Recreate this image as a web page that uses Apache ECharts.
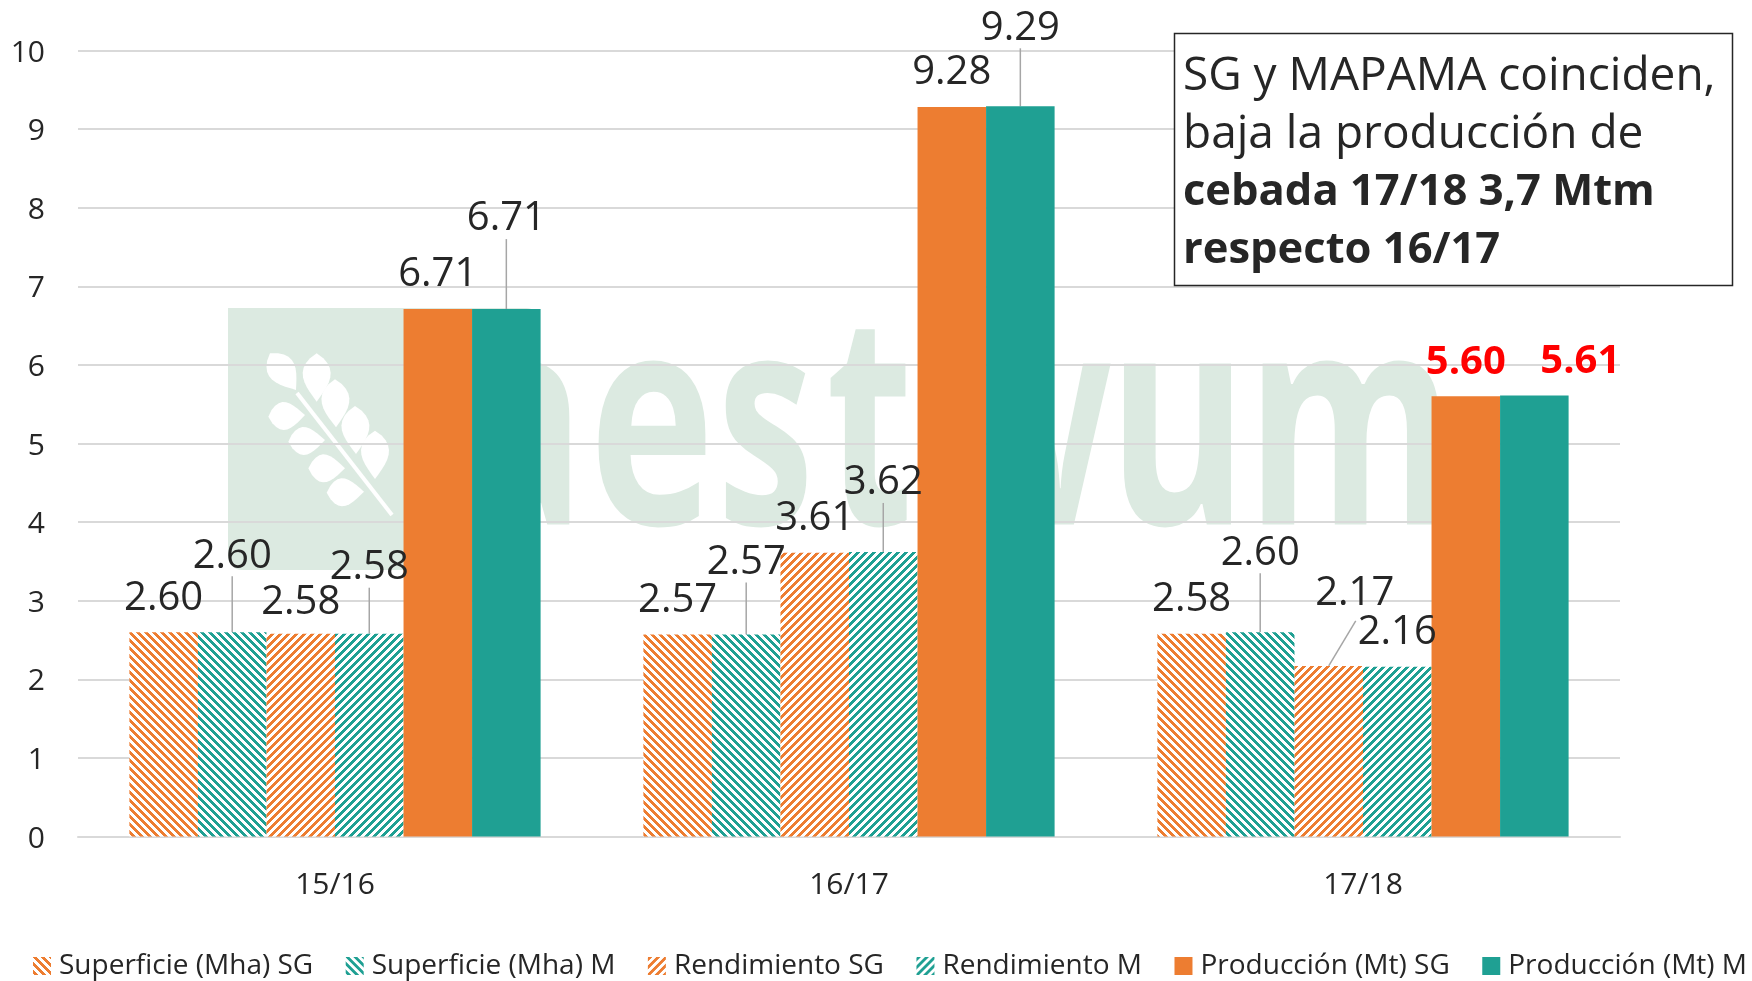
<!DOCTYPE html>
<html>
<head>
<meta charset="utf-8">
<style>html,body{margin:0;padding:0;background:#fff}#c{width:1752px;height:981px}</style>
<script src="https://cdn.jsdelivr.net/npm/echarts@6/dist/echarts.min.js"></script>
</head>
<body>
<div id="c"></div>
<script>
const categories = ['15/16', '16/17', '17/18'];
const superficieSG = [2.60, 2.57, 2.58];
const superficieM = [2.60, 2.57, 2.60];
const rendimientoSG = [2.58, 3.61, 2.17];
const rendimientoM = [2.58, 3.62, 2.16];
const produccionSG = [6.71, 9.28, 5.60];
const produccionM = [6.71, 9.29, 5.61];
const seriesNames = ['Superficie (Mha) SG', 'Superficie (Mha) M', 'Rendimiento SG', 'Rendimiento M', 'Producción (Mt) SG', 'Producción (Mt) M'];
const noteLines = ['SG y MAPAMA coinciden,', 'baja la producción de', 'cebada 17/18 3,7 Mtm', 'respecto 16/17'];

const ORANGE = '#ED7D31', TEAL = '#1FA093';
const FONT = '"Open Sans", "Noto Sans", sans-serif';
const TEXT = '#262626';

function hatch(color, rising) {
  const n = 8, c = document.createElement('canvas');
  c.width = n; c.height = n;
  const g = c.getContext('2d');
  g.fillStyle = '#fff'; g.fillRect(0, 0, n, n);
  g.fillStyle = color;
  for (let y = 0; y < n; y++) for (let x = 0; x < n; x++) {
    const k = rising ? (x + y) % n : ((x - y) % n + n) % n;
    if (k < 4) g.fillRect(x, y, 1, 1);
  }
  return { image: c, repeat: 'repeat' };
}

// label displacement [dx, dy] and leader-line flag, per series / category
const labelMoves = [
  [[0, 0], [0, 0], [0, 0]],
  [[0, -42], [0, -38], [0, -45]],
  [[0, 3], [0, 0], [26, -38]],
  [[0, -32], [0, -35], [0, 0]],
  [[0, 0], [0, 0], [0, 0]],
  [[0, -56], [0, -44], [46, 0]]
];
const leaders = [
  [0, 0, 0], [1, 1, 1], [0, 0, 0], [1, 1, 0], [0, 0, 0], [1, 1, 0]
];

const values = [superficieSG, superficieM, rendimientoSG, rendimientoM, produccionSG, produccionM];
const fills = [hatch(ORANGE, false), hatch(TEAL, false), hatch(ORANGE, true), hatch(TEAL, true), ORANGE, TEAL];
const LEADER = { color: '#A6A6A6', width: 1.5 };

const series = values.map((vals, si) => ({
  name: seriesNames[si],
  type: 'bar',
  barGap: 0,
  barCategoryGap: '20%',
  itemStyle: { color: fills[si] },
  label: {
    show: true, position: 'top', distance: 1, padding: [0, 0, 13, 0],
    fontFamily: FONT, fontSize: 40, color: TEXT,
    formatter: p => p.value.toFixed(2)
  },
  labelLine: { show: true, lineStyle: LEADER },
  labelLayout: p => ({ dx: labelMoves[si][p.dataIndex][0], dy: labelMoves[si][p.dataIndex][1] }),
  data: vals.map((v, i) => {
    const d = { value: v, labelLine: { show: !!leaders[si][i] } };
    if (i === 2 && si >= 4) d.label = { color: '#FF0000', fontWeight: 'bold', fontSize: 40 };
    return d;
  })
}));

function leaf(tx, ty, bx, by, w) {
  const ox = 220, oy = 300, s = 1 / 3;
  const x1 = ox + tx * s, y1 = oy + ty * s, x2 = ox + bx * s, y2 = oy + by * s;
  const dx = x2 - x1, dy = y2 - y1, l = Math.hypot(dx, dy), nx = -dy / l * w, ny = dx / l * w;
  const pts = [];
  const steps = [0, .1, .2, .3, .4, .5, .6, .7, .8, .9, 1];
  const bulge = t => Math.sin(Math.PI * Math.pow(t, 0.8));
  steps.forEach(t => pts.push([x1 + dx * t + nx * bulge(t), y1 + dy * t + ny * bulge(t)]));
  steps.slice().reverse().forEach(t => pts.push([x1 + dx * t - nx * bulge(t), y1 + dy * t - ny * bulge(t)]));
  return pts;
}
const leafShapes = [
  [150, 160, 228, 270], [290, 160, 290, 305], [345, 238, 348, 382], [405, 318, 408, 462], [465, 392, 465, 537],
  [145, 350, 255, 345], [205, 425, 315, 420], [265, 505, 375, 505], [320, 578, 432, 575]
];
// watermark letters: [glyph, left, horizontal squeeze]
const wmLetters = [['a', 457, .72], ['e', 589, .72], ['s', 717, .66], ['t', 826, .68], ['i', 930, .72], ['v', 1010, .6], ['u', 1108, .72], ['m', 1246, .72]];

const WM = '#DCEAE1';
const graphic = [
  { type: 'rect', z: -1, shape: { x: 228, y: 308, width: 312, height: 262, r: [0, 14, 0, 14] }, style: { fill: WM } },
  { type: 'line', z: -1, shape: { x1: 297, y1: 393, x2: 392, y2: 515 }, style: { stroke: '#fff', lineWidth: 4 } },
  { type: 'rect', z: 100, shape: { x: 1174.5, y: 33.5, width: 558, height: 252 }, style: { fill: '#fff', stroke: '#262626', lineWidth: 1.5 } }
];
wmLetters.forEach(l => graphic.push({
  type: 'text', z: -1, x: l[1], y: 588, scaleX: l[2],
  style: { text: l[0], fill: WM, font: 'bold 295px ' + FONT, textAlign: 'left', textVerticalAlign: 'bottom' }
}));
leafShapes.forEach(a => graphic.push({
  type: 'polygon', z: -1, shape: { points: leaf(a[0], a[1], a[2], a[3], 14) }, style: { fill: '#fff' }
}));
noteLines.forEach((t, i) => graphic.push({
  type: 'text', z: 101, x: 1183, y: 77 + i * 58,
  style: { text: t, fill: TEXT, font: (i > 1 ? 'bold 43.5px ' : '46px ') + FONT, textAlign: 'left', textVerticalAlign: 'middle' }
}));

const chart = echarts.init(document.getElementById('c'), null, { renderer: 'canvas' });
chart.setOption({
  animation: false,
  backgroundColor: '#fff',
  grid: { left: 78, right: 132, top: 50.5, bottom: 144.5 },
  xAxis: {
    type: 'category', data: categories,
    axisTick: { show: false },
    axisLine: { lineStyle: { color: '#D9D9D9', width: 2 } },
    axisLabel: { fontFamily: FONT, fontSize: 30, color: TEXT, margin: 34 }
  },
  yAxis: {
    type: 'value', min: 0, max: 10, interval: 1,
    axisLine: { show: false }, axisTick: { show: false },
    splitLine: { lineStyle: { color: '#D9D9D9', width: 2 } },
    axisLabel: { fontFamily: FONT, fontSize: 30, color: TEXT, margin: 33, verticalAlign: 'top', lineHeight: 5 }
  },
  legend: {
    left: 33, top: 952, width: 1900, orient: 'horizontal', padding: 0,
    itemWidth: 18, itemHeight: 18, itemGap: 32.5,
    icon: 'rect',
    textStyle: { fontFamily: FONT, fontSize: 28, color: TEXT, padding: [0, 0, 0, 3] },
    data: seriesNames
  },
  graphic: graphic,
  series: series
});

// slanted leader of the 2.17 label, anchored on its bar through the axes' scales
const bandCentre = chart.convertToPixel({ xAxisIndex: 0 }, categories[2]);
const bandWidth = chart.convertToPixel({ xAxisIndex: 0 }, categories[2]) - chart.convertToPixel({ xAxisIndex: 0 }, categories[1]);
const barWidth = bandWidth * 0.8 / 6;
const ax = bandCentre - barWidth / 2;
const ay = chart.convertToPixel({ yAxisIndex: 0 }, rendimientoSG[2]);
graphic.push({ type: 'line', z: 50, shape: { x1: ax, y1: ay, x2: ax + 27, y2: ay - 45 }, style: { stroke: LEADER.color, lineWidth: LEADER.width } });
chart.setOption({ graphic: graphic });
</script>
</body>
</html>
